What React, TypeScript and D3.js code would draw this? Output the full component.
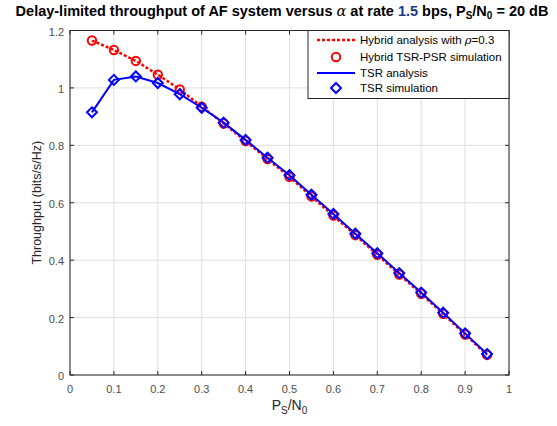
import React from "react";
import * as d3 from "d3";

const alphas = [0.05, 0.1, 0.15, 0.2, 0.25, 0.3, 0.35, 0.4, 0.45, 0.5, 0.55, 0.6, 0.65, 0.7, 0.75, 0.8, 0.85, 0.9, 0.95];
const hybrid = [1.165, 1.132, 1.094, 1.046, 0.995, 0.935, 0.876, 0.815, 0.752, 0.69, 0.622, 0.555, 0.487, 0.419, 0.35, 0.283, 0.213, 0.141, 0.07];
const tsr = [0.915, 1.028, 1.04, 1.017, 0.978, 0.931, 0.879, 0.819, 0.757, 0.696, 0.628, 0.561, 0.492, 0.424, 0.355, 0.287, 0.217, 0.145, 0.073];
const xTicks = [0, 0.1, 0.2, 0.3, 0.4, 0.5, 0.6, 0.7, 0.8, 0.9, 1];
const yTicks = [0, 0.2, 0.4, 0.6, 0.8, 1, 1.2];
const legendLabels = ["Hybrid analysis with ", "Hybrid TSR-PSR simulation", "TSR analysis", "TSR simulation"];

export default function App() {
  const W = 557, H = 426;
  const L = 70, R = 509, T = 30.5, B = 375;
  const x = d3.scaleLinear().domain([0, 1]).range([L, R]);
  const y = d3.scaleLinear().domain([0, 1.2]).range([B, T]);
  const line = d3.line<number>().x((_, i) => x(alphas[i])).y((d) => y(d));
  const tickColor = "#4d4d4d";
  const font = "Arial, 'Liberation Sans', sans-serif";
  const diamond = (cx: number, cy: number, s: number) =>
    `M${cx},${cy - s}L${cx + s},${cy}L${cx},${cy + s}L${cx - s},${cy}Z`;

  const lgX = 308, lgY = 30.5, lgW = 201, lgH = 68;
  const rowY = [40, 57, 73, 88];

  return (
    <svg width={W} height={H} style={{ position: "absolute", left: 0, top: 0, background: "#fff" }} fontFamily={font}>
      <rect x={0} y={0} width={W} height={H} fill="#fff" />
      <rect x={L} y={T} width={R - L} height={B - T} fill="#fff" />
      {xTicks.map((t) => (
        <line key={"gx" + t} x1={x(t)} x2={x(t)} y1={T} y2={B} stroke="#dfdfdf" strokeWidth={1} />
      ))}
      {yTicks.map((t) => (
        <line key={"gy" + t} x1={L} x2={R} y1={y(t)} y2={y(t)} stroke="#dfdfdf" strokeWidth={1} />
      ))}
      <rect x={L} y={T} width={R - L} height={B - T} fill="none" stroke="#262626" strokeWidth={1} />
      {xTicks.map((t) => (
        <g key={"tx" + t}>
          <line x1={x(t)} x2={x(t)} y1={B} y2={B - 4} stroke="#262626" />
          <line x1={x(t)} x2={x(t)} y1={T} y2={T + 4} stroke="#262626" />
          <text x={x(t)} y={B + 18} textAnchor="middle" fontSize={11} fill={tickColor}>{t}</text>
        </g>
      ))}
      {yTicks.map((t) => (
        <g key={"ty" + t}>
          <line x1={L} x2={L + 4} y1={y(t)} y2={y(t)} stroke="#262626" />
          <line x1={R} x2={R - 4} y1={y(t)} y2={y(t)} stroke="#262626" />
          <text x={L - 6} y={y(t) + 5} textAnchor="end" fontSize={11} fill={tickColor}>{t}</text>
        </g>
      ))}
      <text x={(L + R) / 2} y={410} textAnchor="middle" fontSize={14} fill="#262626">
        P<tspan fontSize={10} dy={4}>S</tspan><tspan dy={-4}>/N</tspan><tspan fontSize={10} dy={4}>0</tspan>
      </text>
      <text transform={`translate(41,${(T + B) / 2}) rotate(-90)`} textAnchor="middle" fontSize={12.5} fill="#262626">
        Throughput (bits/s/Hz)
      </text>
      <text x={282} y={16} textAnchor="middle" fontSize={14.5} fontWeight="bold" fill="#000">
        Delay-limited throughput of AF system versus <tspan fontFamily="'DejaVu Serif', serif" fontStyle="italic" fontWeight="normal">α</tspan> at rate <tspan fill="#1a3a8a">1.5</tspan> bps, P<tspan fontSize={10} dy={3}>S</tspan><tspan dy={-3}>/N</tspan><tspan fontSize={10} dy={3}>0</tspan><tspan dy={-3}> = 20 dB</tspan>
      </text>

      <path d={line(hybrid) || ""} fill="none" stroke="#ff0000" strokeWidth={2.5} strokeDasharray="3,2" />
      {hybrid.map((v, i) => (
        <circle key={"c" + i} cx={x(alphas[i])} cy={y(v)} r={4.2} fill="none" stroke="#ff0000" strokeWidth={2} />
      ))}
      <path d={line(tsr) || ""} fill="none" stroke="#0000ff" strokeWidth={2} />
      {tsr.map((v, i) => (
        <path key={"d" + i} d={diamond(x(alphas[i]), y(v), 5)} fill="none" stroke="#0000ff" strokeWidth={2} />
      ))}

      <rect x={lgX} y={lgY} width={lgW} height={lgH} fill="#fff" stroke="#262626" strokeWidth={1} />
      <line x1={317} x2={355} y1={rowY[0]} y2={rowY[0]} stroke="#ff0000" strokeWidth={2.5} strokeDasharray="3,2" />
      <circle cx={336} cy={rowY[1]} r={4.2} fill="none" stroke="#ff0000" strokeWidth={2} />
      <line x1={317} x2={355} y1={rowY[2]} y2={rowY[2]} stroke="#0000ff" strokeWidth={2} />
      <path d={diamond(336, rowY[3], 5)} fill="none" stroke="#0000ff" strokeWidth={2} />
      {legendLabels.map((s, i) => (
        <text key={"l" + i} x={360} y={rowY[i] + 4} fontSize={11.5} fill="#000">
          {s}
          {i === 0 ? (
            <>
              <tspan fontFamily="'DejaVu Serif', serif" fontStyle="italic">ρ</tspan>=0.3
            </>
          ) : null}
        </text>
      ))}
    </svg>
  );
}
